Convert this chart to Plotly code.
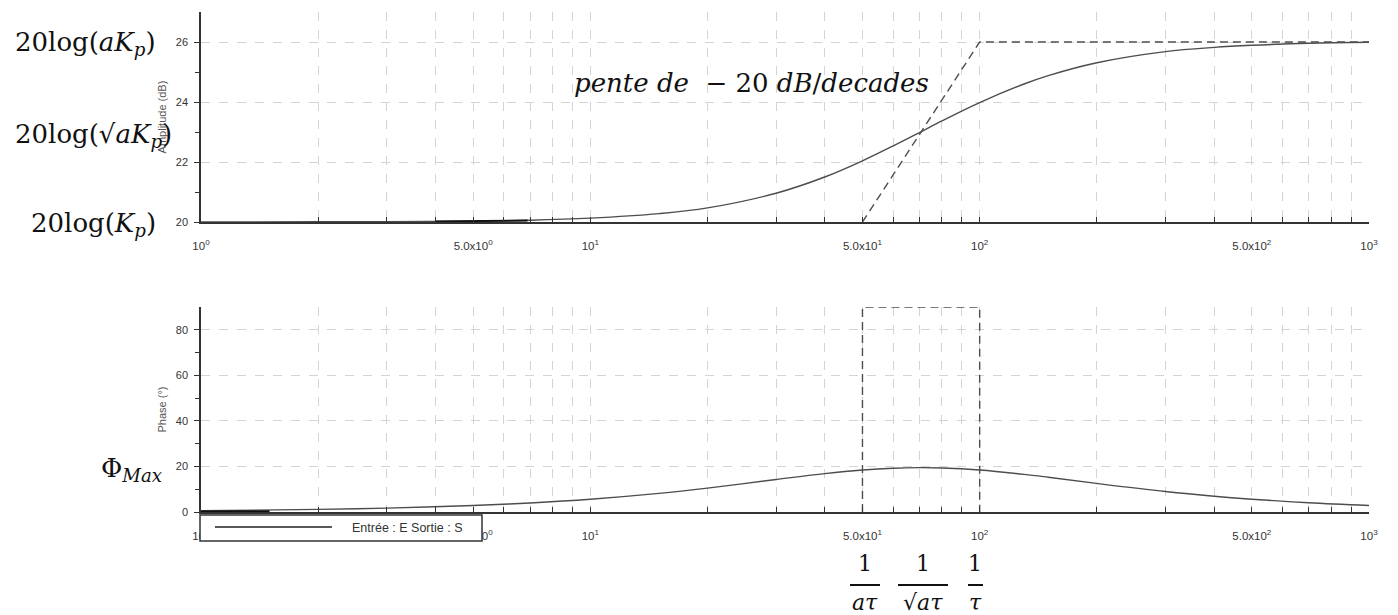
import plotly.graph_objects as go

# ---- data ----
freq = [1, 2, 3, 5, 7, 10, 15, 20, 30, 40, 50, 60, 70, 80, 100, 130, 150, 200, 300, 400, 500, 700, 1000]
gain_db = [20.00, 20.01, 20.01, 20.03, 20.06, 20.13, 20.28, 20.47, 20.96, 21.50, 22.04, 22.54, 22.98,
           23.37, 23.98, 24.60, 24.88, 25.31, 25.68, 25.82, 25.89, 25.96, 25.99]
phase_deg = [0.57, 1.14, 1.72, 2.85, 3.97, 5.60, 8.17, 10.49, 14.26, 16.86, 18.43, 19.23, 19.47,
             19.33, 18.43, 16.53, 15.26, 12.53, 8.97, 6.91, 5.60, 4.04, 2.85]

# darker overdrawn pieces visible in the picture
dark_gain_x = [4.0, 5.0, 6.9]
dark_gain_y = [20.02, 20.03, 20.05]
dark_phase_x = [1.0, 1.5]
dark_phase_y = [0.2, 0.3]

asym_x = [50, 100, 1000]
asym_y = [20, 26, 26]
rect_x = [50, 50, 100, 100]
rect_y = [0, 90, 90, 0]

x_tickvals = [m * 10 ** d for d in range(3) for m in range(1, 10)] + [1000]
x_labels = {1: "10<sup>0</sup>", 5: "5.0x10<sup>0</sup>", 10: "10<sup>1</sup>", 50: "5.0x10<sup>1</sup>",
            100: "10<sup>2</sup>", 500: "5.0x10<sup>2</sup>", 1000: "10<sup>3</sup>"}
x_ticktext = [x_labels.get(v, "") for v in x_tickvals]

amp_ticks = [20, 22, 24, 26]
amp_minor = [21, 23, 25]
ph_ticks = [0, 20, 40, 60, 80]
ph_minor = [10, 30, 50, 70]

legend_text = "Entrée : E Sortie : S"

CURVE = "#4d4d4d"
AX = "#333333"
GRID = "#d4d4d4"

fig = go.Figure()
fig.add_trace(go.Scatter(x=freq, y=gain_db, mode="lines", line=dict(color=CURVE, width=1.4, shape="spline"),
                         xaxis="x", yaxis="y", showlegend=False))
fig.add_trace(go.Scatter(x=dark_gain_x, y=dark_gain_y, mode="lines", line=dict(color="#111", width=2),
                         xaxis="x", yaxis="y", showlegend=False))
fig.add_trace(go.Scatter(x=asym_x, y=asym_y, mode="lines", line=dict(color=CURVE, width=1.4, dash="8px,5px"),
                         xaxis="x", yaxis="y", showlegend=False, cliponaxis=False))
fig.add_trace(go.Scatter(x=freq, y=phase_deg, mode="lines", line=dict(color=CURVE, width=1.4, shape="spline"),
                         xaxis="x2", yaxis="y2", showlegend=False))
fig.add_trace(go.Scatter(x=dark_phase_x, y=dark_phase_y, mode="lines", line=dict(color="#111", width=2),
                         xaxis="x2", yaxis="y2", showlegend=False))
fig.add_trace(go.Scatter(x=rect_x, y=rect_y, mode="lines", line=dict(color=CURVE, width=1.4, dash="8px,5px"),
                         xaxis="x2", yaxis="y2", showlegend=False, cliponaxis=False))

tickfont = dict(family="Liberation Sans, Arial", size=11, color=AX)
xtickfont = dict(family="Liberation Sans, Arial", size=11.5, color=AX)

def xaxis_cfg(anchor):
    return dict(type="log", range=[0, 3], tickmode="array", tickvals=x_tickvals, ticktext=x_ticktext,
                ticks="inside", ticklen=5, tickwidth=1, tickcolor=AX, tickfont=xtickfont,
                showline=True, linecolor=AX, linewidth=1.5, showgrid=True, gridcolor=GRID,
                griddash="dash", gridwidth=1, zeroline=False, anchor=anchor, ticklabelstandoff=12)

def yaxis_cfg(rng, ticks, minor, domain, title, anchor):
    return dict(range=rng, tickmode="array", tickvals=ticks, ticks="outside", ticklen=5, tickwidth=1,
                tickcolor=AX, tickfont=tickfont, showline=True, linecolor=AX, linewidth=1.5,
                showgrid=True, gridcolor=GRID, griddash="dash", gridwidth=1, zeroline=False,
                minor=dict(tickvals=minor, ticks="outside", ticklen=4, tickcolor=AX, showgrid=False),
                domain=domain, anchor=anchor, ticklabelstandoff=4,
                title=dict(text=title, font=dict(family="Liberation Sans, Arial", size=11, color="#555"), standoff=7))

# the page adds an 8 px body margin, so the figure is offset by 8 px in the screenshot
fig.update_layout(
    width=1398, height=615,
    margin=dict(l=193, r=37, t=4, b=111),
    paper_bgcolor="white", plot_bgcolor="white",
    xaxis=xaxis_cfg("y"),
    yaxis=yaxis_cfg([20, 27], amp_ticks, amp_minor, [0.58, 1.0], "Amplitude (dB)", "x"),
    xaxis2=xaxis_cfg("y2"),
    yaxis2=yaxis_cfg([0, 90], ph_ticks, ph_minor, [0.0, 0.41], "Phase (°)", "x2"),
)

def xp(px):
    return (px - 201) / 1168

def yp(py):
    return (512 - py) / 500

MATH = dict(family="DejaVu Serif, Liberation Serif, serif", size=26, color="#111")
FRAC = dict(family="DejaVu Serif, Liberation Serif, serif", size=22, color="#111")
anns = [
    dict(text="20log(<i>aK</i><sub><i>p</i></sub>)", x=xp(158), y=yp(44), xanchor="right", yanchor="middle", font=MATH),
    dict(text="20log(√<i>a</i><i>K</i><sub><i>p</i></sub>)", x=xp(174), y=yp(135), xanchor="right", yanchor="middle", font=MATH),
    dict(text="20log(<i>K</i><sub><i>p</i></sub>)", x=xp(158), y=yp(224), xanchor="right", yanchor="middle", font=MATH),
    dict(text="Φ<sub><i>Max</i></sub>", x=xp(164), y=yp(469), xanchor="right", yanchor="middle", font=MATH),
    dict(text="<i>pente de</i>  − 20 <i>dB</i>/<i>decades</i>", x=xp(751), y=yp(83), xanchor="center", yanchor="middle", font=MATH),
    dict(text="1", x=xp(865), y=yp(563), xanchor="center", yanchor="middle", font=FRAC),
    dict(text="1", x=xp(923), y=yp(563), xanchor="center", yanchor="middle", font=FRAC),
    dict(text="1", x=xp(975), y=yp(563), xanchor="center", yanchor="middle", font=FRAC),
    dict(text="<i>aτ</i>", x=xp(865), y=yp(602), xanchor="center", yanchor="middle", font=FRAC),
    dict(text="√<i>aτ</i>", x=xp(923), y=yp(602), xanchor="center", yanchor="middle", font=FRAC),
    dict(text="<i>τ</i>", x=xp(975), y=yp(602), xanchor="center", yanchor="middle", font=FRAC),
]
for a in anns:
    a.update(xref="paper", yref="paper", showarrow=False)
anns.append(dict(text=legend_text, x=xp(350), y=yp(528), xref="paper", yref="paper", xanchor="left",
                 yanchor="middle", showarrow=False, font=dict(family="Liberation Sans, Arial", size=12.5, color="#333")))
fig.update_layout(annotations=anns)

shapes = [
    dict(type="line", xref="paper", yref="paper", x0=xp(850), x1=xp(880), y0=yp(585), y1=yp(585), line=dict(color="#111", width=2)),
    dict(type="line", xref="paper", yref="paper", x0=xp(898), x1=xp(948), y0=yp(585), y1=yp(585), line=dict(color="#111", width=2)),
    dict(type="line", xref="paper", yref="paper", x0=xp(968), x1=xp(983), y0=yp(585), y1=yp(585), line=dict(color="#111", width=2)),
    dict(type="rect", xref="paper", yref="paper", x0=xp(200), x1=xp(482), y0=yp(541), y1=yp(515),
         line=dict(color=AX, width=1.5), fillcolor="white", layer="above"),
    dict(type="line", xref="paper", yref="paper", x0=xp(215), x1=xp(332), y0=yp(527), y1=yp(527),
         line=dict(color="#222", width=1.5), layer="above"),
]
fig.update_layout(shapes=shapes)

fig.write_html("out.html")
